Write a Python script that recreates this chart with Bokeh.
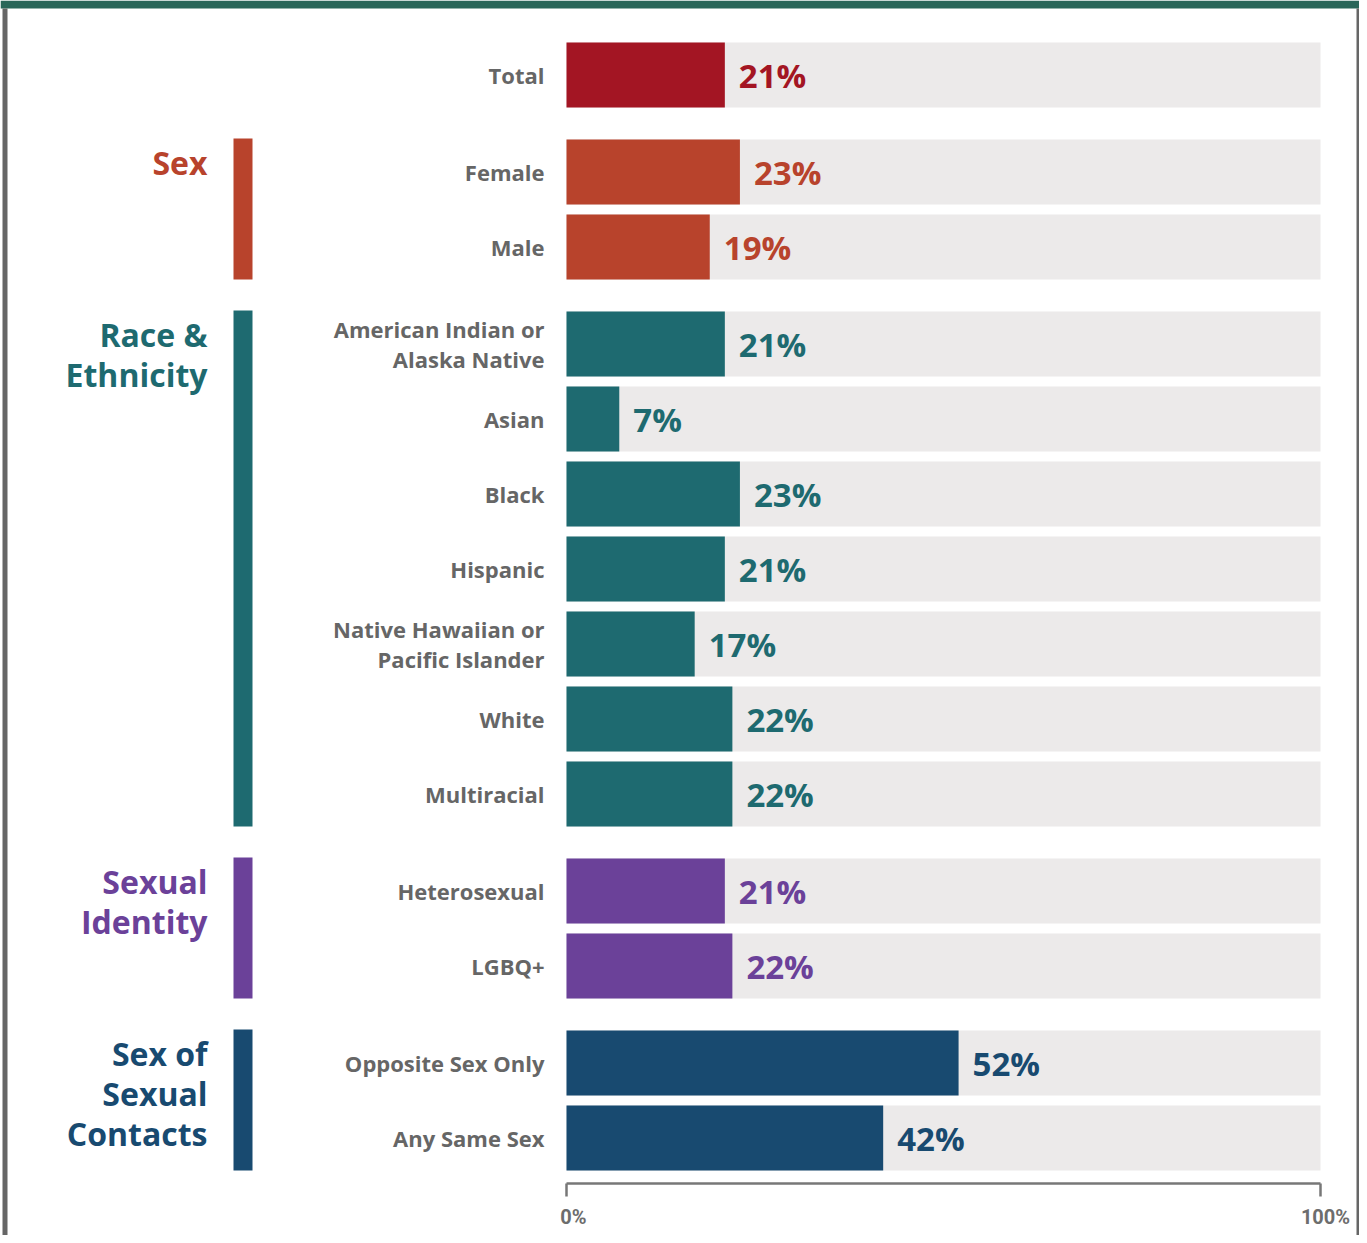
from bokeh.plotting import figure
from bokeh.models import Range1d, ColumnDataSource
from bokeh.core.properties import value
from bokeh.embed import file_html
from bokeh.resources import INLINE

# ---------------- data ----------------
categories = ["Total", "Female", "Male",
              "American Indian or\nAlaska Native", "Asian", "Black", "Hispanic",
              "Native Hawaiian or\nPacific Islander", "White", "Multiracial",
              "Heterosexual", "LGBQ+",
              "Opposite Sex Only", "Any Same Sex"]
values = [21, 23, 19, 21, 7, 23, 21, 17, 22, 22, 21, 22, 52, 42]
group_of = [0, 1, 1, 2, 2, 2, 2, 2, 2, 2, 3, 3, 4, 4]
group_names = ["Total", "Sex", "Race &\nEthnicity", "Sexual\nIdentity", "Sex of\nSexual\nContacts"]
group_colors = ["#A31523", "#B8432C", "#1E6A70", "#6B4199", "#184A70"]
tick_values = [0, 100]
tick_labels = ["0%", "100%"]

# ---------------- layout (pixel coordinates) ----------------
W, H = 1359, 1235
AX_L, AX_R = 566, 1320  # 0% .. 100%
px_per_pct = (AX_R - AX_L) / 100.0
ROW_TOP0, PITCH, GROUP_GAP, BAR_H = 42, 75, 22, 65

tops = [ROW_TOP0 + i * PITCH + g * GROUP_GAP for i, g in enumerate(group_of)]
centers = [t + BAR_H / 2 for t in tops]
colors = [group_colors[g] for g in group_of]

p = figure(width=W, height=H, output_backend="svg", toolbar_location=None,
           x_range=Range1d(0, W), y_range=Range1d(H, 0),
           x_axis_type=None, y_axis_type=None, min_border=0,
           outline_line_color=None, background_fill_color="white",
           border_fill_color="white")
p.grid.visible = False
p.extra_x_ranges = {"pct": Range1d(-AX_L / px_per_pct, (W - AX_L) / px_per_pct)}

FONT = value("Open Sans")

# page frame: green top strip, gray side borders
p.quad(left=0, right=W, top=0, bottom=8, color="#2A6659", line_color=None)
p.quad(left=2, right=7, top=8, bottom=H, color="#666666", line_color=None)
p.quad(left=W - 3, right=W, top=8, bottom=H, color="#666666", line_color=None)

src = ColumnDataSource(dict(y=centers, v=values, c=colors,
                            lab=[f"{v}%" for v in values],
                            full=[100] * len(values)))

# background bars
p.hbar(y="y", left=0, right="full", height=BAR_H, source=src, x_range_name="pct",
       fill_color="#ECEAEA", line_color=None)
# value bars
p.hbar(y="y", left=0, right="v", height=BAR_H, source=src, x_range_name="pct",
       fill_color="c", line_color=None)

# category labels (multi-line split into separate lines)
cat_txt, cat_y = [], []
CAT_LS = 30
for cat, cy in zip(categories, centers):
    lines = cat.split("\n")
    n = len(lines)
    for k, ln in enumerate(lines):
        cat_txt.append(ln)
        cat_y.append(cy + (k - (n - 1) / 2) * CAT_LS)
p.text(x=[544] * len(cat_txt), y=cat_y, text=cat_txt, text_align="right",
       text_baseline="middle", text_font=FONT, text_font_style="bold",
       text_font_size="22px", text_color="#666666")

# value labels
p.text(x="v", y="y", text="lab", source=src, x_range_name="pct", x_offset=14,
       text_align="left", text_baseline="middle", text_font=FONT,
       text_font_style="bold", text_font_size="33px", text_color="c")

# group side bars and titles
gb_top, gb_bot, gcols = [], [], []
gt_txt, gt_y, gt_c = [], [], []
GRP_LS = 40
for g in range(1, len(group_names)):
    idx = [i for i, gg in enumerate(group_of) if gg == g]
    t = tops[idx[0]] - 1
    gb_top.append(t)
    gb_bot.append(tops[idx[-1]] + BAR_H)
    gcols.append(group_colors[g])
    for k, ln in enumerate(group_names[g].split("\n")):
        gt_txt.append(ln)
        gt_y.append(t + 24 + k * GRP_LS)
        gt_c.append(group_colors[g])
p.quad(left=233, right=252, top=gb_top, bottom=gb_bot, fill_color=gcols, line_color=None)
p.text(x=[207] * len(gt_txt), y=gt_y, text=gt_txt, text_align="right",
       text_baseline="middle", text_font=FONT, text_font_style="bold",
       text_font_size="32px", text_color=gt_c)

# axis bracket
axis_y = 1183
p.segment(x0=0, x1=100, y0=axis_y, y1=axis_y, x_range_name="pct",
          line_color="#777777", line_width=2.5)
p.segment(x0=tick_values, x1=tick_values, y0=[axis_y] * 2, y1=[axis_y + 13] * 2,
          x_range_name="pct", line_color="#777777", line_width=2.5)
p.text(x=tick_values, y=[1216] * 2, text=tick_labels, x_range_name="pct",
       x_offset=[7, 5], text_align="center", text_baseline="middle",
       text_font=value("Roboto"), text_font_style="bold",
       text_font_size="20px", text_color="#6D6D6D")

open("out.html", "w").write(file_html(p, INLINE))
